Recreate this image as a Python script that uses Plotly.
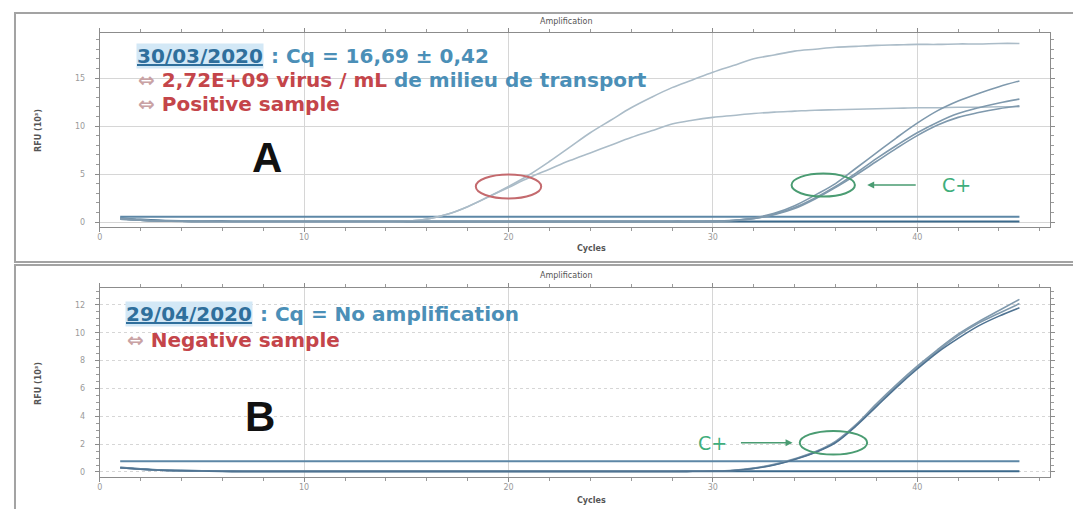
import plotly.graph_objects as go

# The page body has an 8px default margin, so the figure is sized to fit the 1081x509 window.
OFF = 8
W, H = 1081 - OFF, 509 - OFF

cycles = list(range(1, 46))

# ---- Panel A (30/03/2020) ----
pos_high = [0.30, 0.18, 0.10, 0.06, 0.04, 0.03, 0.03, 0.03, 0.03, 0.03, 0.03, 0.03, 0.03, 0.04, 0.08,
            0.30, 0.80, 1.60, 2.60, 3.70, 4.90, 6.30, 7.80, 9.30, 10.6, 11.9, 13.0, 14.0, 14.8, 15.6,
            16.3, 17.0, 17.4, 17.8, 18.0, 18.2, 18.3, 18.4, 18.45, 18.5, 18.5, 18.55, 18.55, 18.6, 18.6]
pos_low = [0.30, 0.18, 0.10, 0.06, 0.04, 0.03, 0.03, 0.03, 0.03, 0.03, 0.03, 0.03, 0.03, 0.04, 0.08,
           0.30, 0.80, 1.60, 2.60, 3.60, 4.60, 5.50, 6.40, 7.20, 8.00, 8.80, 9.50, 10.2, 10.6, 10.9,
           11.1, 11.3, 11.45, 11.55, 11.65, 11.7, 11.75, 11.8, 11.85, 11.9, 11.9, 11.95, 11.95, 12.0, 12.0]
ctrl_a1 = [0.35, 0.20, 0.12, 0.08, 0.06, 0.05, 0.05, 0.05, 0.05, 0.05, 0.05, 0.05, 0.05, 0.05, 0.05,
           0.05, 0.05, 0.05, 0.05, 0.05, 0.05, 0.05, 0.05, 0.05, 0.05, 0.05, 0.05, 0.06, 0.07, 0.08,
           0.18, 0.42, 0.90, 1.70, 2.80, 4.00, 5.60, 7.20, 8.80, 10.3, 11.6, 12.6, 13.4, 14.1, 14.7]
ctrl_a2 = [0.35, 0.20, 0.12, 0.08, 0.06, 0.05, 0.05, 0.05, 0.05, 0.05, 0.05, 0.05, 0.05, 0.05, 0.05,
           0.05, 0.05, 0.05, 0.05, 0.05, 0.05, 0.05, 0.05, 0.05, 0.05, 0.05, 0.05, 0.06, 0.06, 0.07,
           0.16, 0.38, 0.80, 1.50, 2.50, 3.70, 5.10, 6.60, 8.00, 9.30, 10.4, 11.3, 11.9, 12.4, 12.8]
ctrl_a3 = [0.35, 0.20, 0.12, 0.08, 0.06, 0.05, 0.05, 0.05, 0.05, 0.05, 0.05, 0.05, 0.05, 0.05, 0.05,
           0.05, 0.05, 0.05, 0.05, 0.05, 0.05, 0.05, 0.05, 0.05, 0.05, 0.05, 0.05, 0.06, 0.06, 0.07,
           0.15, 0.35, 0.75, 1.40, 2.40, 3.60, 4.90, 6.30, 7.70, 9.00, 10.1, 10.9, 11.4, 11.8, 12.1]
neg_a = [0.40, 0.25, 0.15, 0.10, 0.08, 0.07, 0.06, 0.06, 0.06, 0.06, 0.06, 0.06, 0.06, 0.06, 0.06,
         0.06, 0.06, 0.06, 0.06, 0.06, 0.06, 0.06, 0.06, 0.06, 0.06, 0.06, 0.06, 0.06, 0.06, 0.06,
         0.06, 0.06, 0.06, 0.06, 0.06, 0.06, 0.06, 0.06, 0.06, 0.06, 0.06, 0.06, 0.06, 0.06, 0.06]
threshold_a = 0.55

# ---- Panel B (29/04/2020) ----
ctrl_b1 = [0.30, 0.20, 0.13, 0.09, 0.07, 0.05, 0.04, 0.04, 0.04, 0.04, 0.04, 0.04, 0.04, 0.04, 0.04,
           0.04, 0.04, 0.04, 0.04, 0.04, 0.04, 0.04, 0.04, 0.04, 0.04, 0.04, 0.04, 0.04, 0.05, 0.06,
           0.12, 0.28, 0.55, 0.95, 1.45, 2.20, 3.40, 4.90, 6.30, 7.60, 8.80, 9.90, 10.8, 11.6, 12.4]
ctrl_b2 = [0.30, 0.20, 0.13, 0.09, 0.07, 0.05, 0.04, 0.04, 0.04, 0.04, 0.04, 0.04, 0.04, 0.04, 0.04,
           0.04, 0.04, 0.04, 0.04, 0.04, 0.04, 0.04, 0.04, 0.04, 0.04, 0.04, 0.04, 0.04, 0.05, 0.06,
           0.11, 0.26, 0.52, 0.92, 1.42, 2.15, 3.35, 4.80, 6.20, 7.50, 8.70, 9.80, 10.7, 11.4, 12.1]
ctrl_b3 = [0.30, 0.20, 0.13, 0.09, 0.07, 0.05, 0.04, 0.04, 0.04, 0.04, 0.04, 0.04, 0.04, 0.04, 0.04,
           0.04, 0.04, 0.04, 0.04, 0.04, 0.04, 0.04, 0.04, 0.04, 0.04, 0.04, 0.04, 0.04, 0.05, 0.06,
           0.10, 0.25, 0.50, 0.90, 1.40, 2.10, 3.30, 4.70, 6.10, 7.40, 8.60, 9.60, 10.5, 11.2, 11.8]
neg_b = [0.32, 0.22, 0.14, 0.10, 0.08, 0.06, 0.05, 0.05, 0.05, 0.05, 0.05, 0.05, 0.05, 0.05, 0.05,
         0.05, 0.05, 0.05, 0.05, 0.05, 0.05, 0.05, 0.05, 0.05, 0.05, 0.05, 0.05, 0.05, 0.05, 0.05,
         0.05, 0.05, 0.05, 0.05, 0.05, 0.05, 0.05, 0.05, 0.05, 0.05, 0.05, 0.05, 0.05, 0.05, 0.05]
threshold_b = 0.78

x_ticks = [0, 10, 20, 30, 40]
ya_ticks = [0, 5, 10, 15]
yb_ticks = [0, 2, 4, 6, 8, 10, 12]

# colours
C_POS = "#abbcc8"
C_CTRL = "#7f99ad"
C_BASE = "#3c6a8c"
C_THR = "#5d87a6"
BLUE_DARK = "#2f6f9c"
BLUE = "#4b8fb7"
RED = "#c4454a"
GREEN = "#4a9c72"

def px(x):
    return (x - OFF) / W

def py(y):
    return 1 - (y - OFF) / H

fig = go.Figure()

def line(x, y, color, width, xa, ya, shape="spline"):
    fig.add_trace(go.Scatter(x=x, y=y, mode="lines", line=dict(color=color, width=width, shape=shape),
                             xaxis=xa, yaxis=ya, showlegend=False, hoverinfo="skip"))

# Panel A traces
line(cycles, neg_a, C_BASE, 2, "x", "y")
line([cycles[0], cycles[-1]], [threshold_a, threshold_a], C_THR, 2, "x", "y", "linear")
line(cycles, pos_high, C_POS, 1.6, "x", "y")
line(cycles, pos_low, C_POS, 1.6, "x", "y")
line(cycles, ctrl_a1, C_CTRL, 1.6, "x", "y")
line(cycles, ctrl_a2, C_CTRL, 1.6, "x", "y")
line(cycles, ctrl_a3, C_CTRL, 1.6, "x", "y")

# Panel B traces
line(cycles, neg_b, C_BASE, 2, "x2", "y2")
line([cycles[0], cycles[-1]], [threshold_b, threshold_b], C_THR, 2, "x2", "y2", "linear")
line(cycles, ctrl_b1, C_CTRL, 1.6, "x2", "y2")
line(cycles, ctrl_b2, C_CTRL, 1.6, "x2", "y2")
line(cycles, ctrl_b3, "#4f7392", 1.6, "x2", "y2")

xdom = [px(97), px(1050)]
xrange = [0, 46.5]

axis_common = dict(showline=True, linecolor="#8c8c8c", linewidth=1, mirror="allticks",
                   ticks="outside", ticklen=4, tickcolor="#8c8c8c",
                   tickfont=dict(family="DejaVu Sans", size=8, color="#9a9a9a"),
                   zeroline=False, gridcolor="#d6d6d6", gridwidth=1)

fig.update_layout(
    width=W, height=H, margin=dict(l=0, r=0, t=0, b=0),
    paper_bgcolor="white", plot_bgcolor="white",
    xaxis=dict(domain=xdom, range=xrange, tickvals=x_ticks, anchor="y", ticklabelstandoff=-2,
               minor=dict(dtick=2, ticks="outside", ticklen=3, tickcolor="#9a9a9a", showgrid=False),
               **axis_common),
    yaxis=dict(domain=[py(227), py(33)], range=[-0.52, 19.69], tickvals=ya_ticks, anchor="x",
               ticklabelstandoff=8,
               minor=dict(dtick=1, ticks="outside", ticklen=3, tickcolor="#9a9a9a", showgrid=False),
               **axis_common),
    xaxis2=dict(domain=xdom, range=xrange, tickvals=x_ticks, anchor="y2", ticklabelstandoff=-2,
                minor=dict(dtick=2, ticks="outside", ticklen=3, tickcolor="#9a9a9a", showgrid=False),
                **axis_common),
    yaxis2=dict(domain=[py(477), py(288)], range=[-0.36, 13.22], tickvals=yb_ticks, anchor="x2",
                ticklabelstandoff=8, griddash="dot",
                minor=dict(dtick=0.5, ticks="outside", ticklen=3, tickcolor="#9a9a9a", showgrid=False),
                **axis_common),
)

# outer frames
shapes = [
    dict(type="rect", xref="paper", yref="paper", x0=px(12), x1=px(1090), y0=py(262), y1=py(13),
         line=dict(color="#a3a3a3", width=2)),
    dict(type="rect", xref="paper", yref="paper", x0=px(12), x1=px(1090), y0=py(515), y1=py(265),
         line=dict(color="#a3a3a3", width=2)),
    # circles
    dict(type="circle", xref="x", yref="y", x0=20.0 - 1.6, x1=20.0 + 1.6, y0=3.7 - 1.25, y1=3.7 + 1.25,
         line=dict(color="#c46a6e", width=2)),
    dict(type="circle", xref="x", yref="y", x0=35.4 - 1.55, x1=35.4 + 1.55, y0=3.85 - 1.2, y1=3.85 + 1.2,
         line=dict(color=GREEN, width=2)),
    dict(type="circle", xref="x2", yref="y2", x0=35.9 - 1.65, x1=35.9 + 1.65, y0=2.1 - 0.85, y1=2.1 + 0.85,
         line=dict(color=GREEN, width=2)),
]
fig.update_layout(shapes=shapes)

F = "DejaVu Sans"
ann = []

def txt(x, y, text, size, color, bold=False, anchor="left", angle=0, family=F, **kw):
    ann.append(dict(xref="paper", yref="paper", x=px(x), y=py(y), text=text, showarrow=False,
                    xanchor=anchor, yanchor="middle", textangle=angle,
                    font=dict(family=family, size=size, color=color, weight="bold" if bold else "normal",
                              **kw.pop("fontkw", {})), **kw))

# small chart texts
txt(565, 22, "Amplification", 8, "#555555", anchor="center")
txt(590, 248, "Cycles", 8, "#555555", bold=True, anchor="center")
txt(565, 275, "Amplification", 8, "#555555", anchor="center")
txt(590, 500, "Cycles", 8, "#555555", bold=True, anchor="center")
txt(35, 130, "RFU (10³)", 8, "#555555", bold=True, anchor="center", angle=-90)
txt(35, 383, "RFU (10³)", 8, "#555555", bold=True, anchor="center", angle=-90)

# panel A annotations
TS = 20
txt(133, 56, "30/03/2020", TS, BLUE_DARK, bold=True, bgcolor="#d3e8f6", borderpad=0,
    fontkw=dict(lineposition="under"))
txt(260, 56, " : Cq = 16,69 ± 0,42", TS, BLUE, bold=True)
txt(133, 80, "<span style='color:#c9a2a4'>⇔</span> 2,72E+09 virus / mL "
             "<span style='color:%s'>de milieu de transport</span>" % BLUE, TS, RED, bold=True)
txt(133, 104, "<span style='color:#c9a2a4'>⇔</span> Positive sample", TS, RED, bold=True)
txt(265, 158, "A", 42, "#111111", bold=True, anchor="center", family="Liberation Sans")

# panel B annotations
txt(122, 314, "29/04/2020", TS, BLUE_DARK, bold=True, bgcolor="#d3e8f6", borderpad=0,
    fontkw=dict(lineposition="under"))
txt(249, 314, " : Cq = No amplification", TS, BLUE, bold=True)
txt(122, 340, "<span style='color:#c9a2a4'>⇔</span> Negative sample", TS, RED, bold=True)
txt(258, 416, "B", 42, "#111111", bold=True, anchor="center", family="Liberation Sans")

# C+ labels and arrows
ann.append(dict(xref="x", yref="y", x=41.9, y=3.85, text="C+", showarrow=False, xanchor="center",
                font=dict(family=F, size=19, color="#3fae7c")))
ann.append(dict(xref="x", yref="y", x=37.55, y=3.85, ax=40.0, ay=3.85, axref="x", ayref="y", text="",
                showarrow=True, arrowhead=2, arrowsize=1, arrowwidth=1.4, arrowcolor=GREEN))
ann.append(dict(xref="x2", yref="y2", x=30.0, y=2.1, text="C+", showarrow=False, xanchor="center",
                font=dict(family=F, size=19, color="#3fae7c")))
ann.append(dict(xref="x2", yref="y2", x=33.9, y=2.1, ax=31.3, ay=2.1, axref="x2", ayref="y2", text="",
                showarrow=True, arrowhead=2, arrowsize=1, arrowwidth=1.4, arrowcolor=GREEN))

fig.update_layout(annotations=ann)

fig.write_html("out.html")
